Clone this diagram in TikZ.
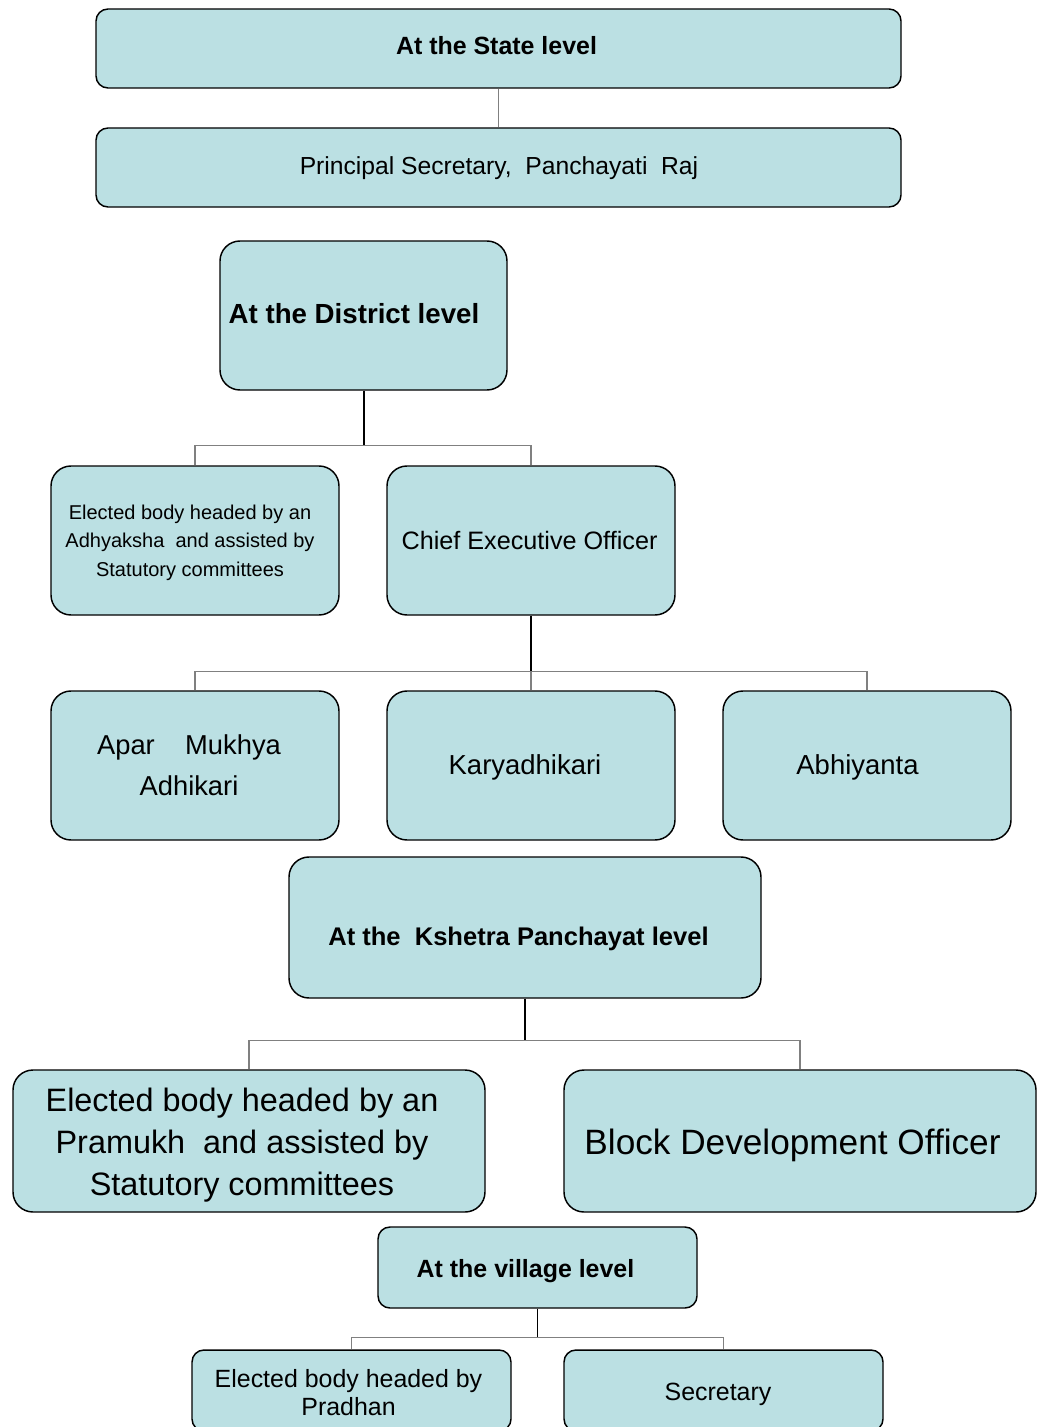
\documentclass[tikz,border=0pt]{standalone}
\usepackage{fontspec}
\setmainfont{Liberation Sans}
\definecolor{boxfill}{HTML}{BBE0E3}
\definecolor{busgray}{HTML}{808080}
\tikzset{
  box/.style={draw=black, fill=boxfill, line width=1.1pt, inner sep=0pt},
  lbl/.style={align=center, inner sep=0pt, text=black},
  smallr/.style={rounded corners=9pt},
  bigr/.style={rounded corners=15pt},
  stem/.style={draw=black, line width=1.5pt},
  thinstem/.style={draw=black, line width=0.9pt},
  bus/.style={draw=busgray, line width=0.9pt},
}
\begin{document}
\begin{tikzpicture}[x=0.75pt, y=-0.75pt]
\useasboundingbox (0,0) rectangle (1040,1427);
\path[clip] (0,0) rectangle (1040,1427);

% State level
\node[box, smallr, minimum width=603.75pt, minimum height=59.25pt,
      label={[lbl, font=\fontsize{18.7}{22}\selectfont\bfseries, shift={(-2,-3)}]center:At the State level}]
      (state) at (498.5,48.5) {};
\node[box, smallr, minimum width=603.75pt, minimum height=59.25pt,
      label={[lbl, font=\fontsize{18.5}{22}\selectfont, shift={(0.5,1)}]center:{Principal Secretary,\ \ Panchayati\ \ Raj}}]
      (psec) at (498.5,167.5) {};

% District level
\node[box, bigr, minimum width=215.25pt, minimum height=111.75pt,
      label={[lbl, font=\fontsize{20.75}{24}\selectfont\bfseries, shift={(-9.5,-2)}]center:At the District level}]
      (district) at (363.5,315.5) {};
\node[box, bigr, minimum width=216pt, minimum height=111.75pt,
      label={[lbl, font=\fontsize{15}{21.4}\selectfont, shift={(-5,2)}]center:{Elected body headed by an\\ Adhyaksha\ \ and assisted by\\ Statutory committees}}]
      (edist) at (195,540.5) {};
\node[box, bigr, minimum width=216pt, minimum height=111.75pt,
      label={[lbl, font=\fontsize{18.9}{22}\selectfont, shift={(-1.5,0)}]center:Chief Executive Officer}]
      (ceo) at (531,540.5) {};

\node[box, bigr, minimum width=216pt, minimum height=111.75pt,
      label={[lbl, font=\fontsize{20.5}{30.75}\selectfont, shift={(-6,0)}]center:{Apar\ \ \ \ Mukhya\\ Adhikari}}]
      (apar) at (195,765.5) {};
\node[box, bigr, minimum width=216pt, minimum height=111.75pt,
      label={[lbl, font=\fontsize{20.6}{24}\selectfont, shift={(-6,2)}]center:Karyadhikari}]
      (kary) at (531,765.5) {};
\node[box, bigr, minimum width=216pt, minimum height=111.75pt,
      label={[lbl, font=\fontsize{20.6}{24}\selectfont, shift={(-9.5,2)}]center:Abhiyanta}]
      (abhi) at (867,765.5) {};

% Kshetra Panchayat level
\node[box, bigr, minimum width=354pt, minimum height=105.75pt,
      label={[lbl, font=\fontsize{19.15}{22.8}\selectfont\bfseries, shift={(-6.5,11)}]center:{At the\ \ Kshetra Panchayat level}}]
      (kshetra) at (525,927.5) {};
\node[box, bigr, minimum width=354pt, minimum height=106.5pt,
      label={[lbl, font=\fontsize{24.3}{31.5}\selectfont, shift={(-7,4)}]center:{Elected body headed by an\\ Pramukh\ \ and assisted by\\ Statutory committees}}]
      (epram) at (249,1141) {};
\node[box, bigr, minimum width=354pt, minimum height=106.5pt,
      label={[lbl, font=\fontsize{26.4}{31}\selectfont, shift={(-7.5,4)}]center:Block Development Officer}]
      (bdo) at (800,1141) {};

% Village level
\node[box, smallr, minimum width=239.25pt, minimum height=60.75pt,
      label={[lbl, font=\fontsize{18.7}{22}\selectfont\bfseries, shift={(-12,4)}]center:At the village level}]
      (village) at (537.5,1267.5) {};
\node[box, smallr, minimum width=239.25pt, minimum height=60.75pt,
      label={[lbl, font=\fontsize{18.7}{21}\selectfont, shift={(-3,2)}]center:{Elected body headed by\\ Pradhan}}]
      (epra) at (351.5,1390.5) {};
\node[box, smallr, minimum width=239.25pt, minimum height=60.75pt,
      label={[lbl, font=\fontsize{18.7}{22}\selectfont, shift={(-5.5,4)}]center:Secretary}]
      (secr) at (723.5,1390.5) {};

% Connectors
\draw[bus] (state.south) -- (psec.north);

\draw[stem] (district.south) -- ++(0,55) coordinate (b1);
\draw[bus] (edist.north) -- (edist.north |- b1) -- (ceo.north |- b1) -- (ceo.north);

\draw[stem] (ceo.south) -- ++(0,56) coordinate (b2);
\draw[bus] (apar.north) -- (apar.north |- b2) -- (abhi.north |- b2) -- (abhi.north);
\draw[bus] (b2) -- (kary.north);

\draw[thinstem] (kshetra.south) -- ++(0,42) coordinate (b3);
\draw[bus] (epram.north) -- (epram.north |- b3) -- (bdo.north |- b3) -- (bdo.north);

\draw[thinstem] (village.south) -- ++(0,29) coordinate (b4);
\draw[bus] (epra.north) -- (epra.north |- b4) -- (secr.north |- b4) -- (secr.north);
\end{tikzpicture}
\end{document}
